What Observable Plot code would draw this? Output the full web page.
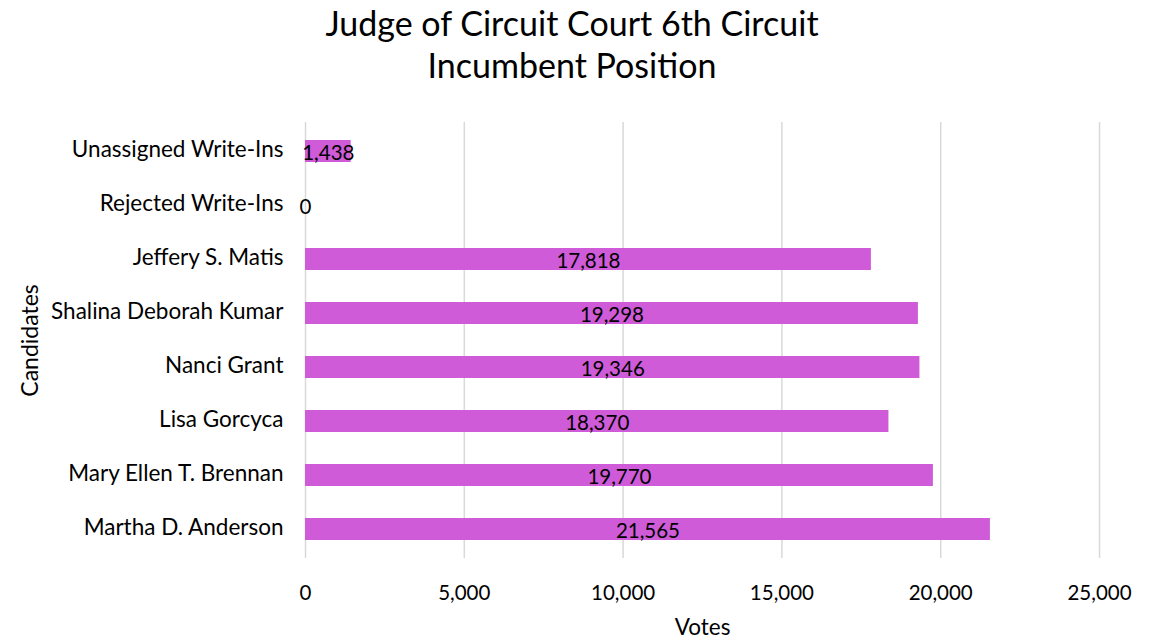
<!DOCTYPE html>
<html>
<head>
<meta charset="utf-8">
<script src="https://cdn.jsdelivr.net/npm/d3@7"></script>
<script src="https://cdn.jsdelivr.net/npm/@observablehq/plot@0.6"></script>
<style>
  html, body { margin: 0; padding: 0; background: #fff; }
  #wrap { width: 1156px; height: 642px; overflow: hidden; font-family: Lato, "Open Sans", sans-serif; }
  #title { height: 100px; box-sizing: border-box; padding-top: 2px; padding-right: 12px; text-align: center;
           font-size: 34px; line-height: 42px; color: #000; }
  svg { display: block; }
</style>
</head>
<body>
<div id="wrap">
  <div id="title">Judge of Circuit Court 6th Circuit<br>Incumbent Position</div>
  <div id="chart"></div>
</div>
<script>
const candidates = [
  "Unassigned Write-Ins",
  "Rejected Write-Ins",
  "Jeffery S. Matis",
  "Shalina Deborah Kumar",
  "Nanci Grant",
  "Lisa Gorcyca",
  "Mary Ellen T. Brennan",
  "Martha D. Anderson"
];
const votes = [1438, 0, 17818, 19298, 19346, 18370, 19770, 21565];
const xTicks = [0, 5000, 10000, 15000, 20000, 25000];
const xLabel = "Votes";
const yLabel = "Candidates";

const data = candidates.map((c, i) => ({candidate: c, votes: votes[i]}));
const fmt = d3.format(",");

const chart = Plot.plot({
  width: 1156,
  height: 542,
  marginTop: 22,
  marginBottom: 84,
  marginLeft: 305,
  marginRight: 57,
  style: {fontFamily: "Lato, 'Open Sans', sans-serif", fontSize: "20px", color: "#000", background: "#fff"},
  x: {domain: [0, 25000]},
  y: {domain: candidates, paddingInner: 0.6, paddingOuter: 0.3},
  marks: [
    Plot.gridX(xTicks, {stroke: "#d9d9d9", strokeOpacity: 1, strokeWidth: 1.5}),
    Plot.barX(data, {x: "votes", y: "candidate", fill: "#cf5bd9"}),
    Plot.text(data, {x: d => d.votes / 2, y: "candidate", text: d => fmt(d.votes), fill: "#000", fontSize: 20.5, dy: 2}),
    Plot.axisX(xTicks, {tickSize: 0, tickPadding: 27, tickFormat: fmt, fontSize: 20.5, label: null}),
    Plot.axisY({tickSize: 0, tickPadding: 22, fontSize: 22.5, dy: -1.5, label: null}),
    Plot.text([xLabel], {text: d => d, frameAnchor: "bottom", dy: 76, fontSize: 22.5, fill: "#000"}),
    Plot.text([yLabel], {text: d => d, frameAnchor: "left", textAnchor: "middle", dx: -275, rotate: -90, fontSize: 23, fill: "#000"})
  ]
});
document.getElementById("chart").appendChild(chart);
</script>
</body>
</html>
